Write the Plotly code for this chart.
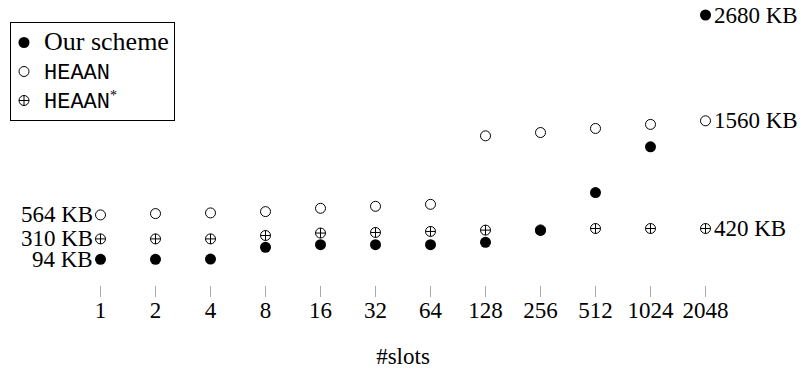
import plotly.graph_objects as go

slots = ["1", "2", "4", "8", "16", "32", "64", "128", "256", "512", "1024", "2048"]
our_scheme = [94, 94, 97, 221, 249, 249, 249, 274, 400, 800, 1285, 2680]
heaan = [564, 578, 585, 599, 634, 655, 676, 1401, 1436, 1479, 1522, 1560]
heaan_star = [310, 310, 310, 346, 372, 378, 389, 403, 405, 420, 420, 420]

SERIF = "Liberation Serif"
MONO = "Liberation Mono"
FS = 23

xpos = list(range(len(slots)))

fig = go.Figure()

fig.add_trace(go.Scatter(
    x=xpos, y=heaan, mode="markers",
    name=f"<span style=\"font-family:'{MONO}';font-size:22px\">HEAAN</span>",
    marker=dict(symbol="circle-open", size=10, color="black", line=dict(width=1, color="black")),
    cliponaxis=False, legendrank=2,
))
fig.add_trace(go.Scatter(
    x=xpos, y=heaan_star, mode="markers",
    name=f"<span style=\"font-family:'{MONO}';font-size:22px\">HEAAN</span><sup>*</sup>",
    marker=dict(symbol="circle-cross-open", size=10, color="black", line=dict(width=1, color="black")),
    cliponaxis=False, legendrank=3,
))
fig.add_trace(go.Scatter(
    x=xpos, y=our_scheme, mode="markers",
    name="<span style=\"font-size:26px\">Our scheme</span>",
    marker=dict(symbol="circle", size=11, color="black", line=dict(width=0)),
    cliponaxis=False, legendrank=1,
))

annots = []
for series in (our_scheme, heaan, heaan_star):
    annots.append(dict(x=xpos[0], y=series[0], text=f"{series[0]} KB", xanchor="right",
                       yanchor="middle", xshift=-6, showarrow=False,
                       font=dict(family=SERIF, size=FS, color="black")))
    annots.append(dict(x=xpos[-1], y=series[-1], text=f"{series[-1]} KB", xanchor="left",
                       yanchor="middle", xshift=6, showarrow=False,
                       font=dict(family=SERIF, size=FS, color="black")))

W, H = 809, 370
L, R, T, B = 72.5, 75.5, 10, 85

fig.update_layout(
    width=W, height=H, autosize=False,
    margin=dict(l=L, r=R, t=T, b=B, pad=0, autoexpand=False),
    paper_bgcolor="white", plot_bgcolor="white",
    font=dict(family=SERIF, size=FS, color="black"),
    annotations=annots,
    showlegend=True,
    legend=dict(
        xref="container", yref="container",
        x=10 / W, y=1 - 22 / H, xanchor="left", yanchor="top",
        bordercolor="black", borderwidth=1, bgcolor="white",
        font=dict(family=SERIF, size=20, color="black"),
        itemwidth=30, tracegroupgap=0, traceorder="normal", indentation=-7,
    ),
    xaxis=dict(
        range=[-0.5, len(slots) - 0.5],
        tickmode="array", tickvals=xpos, ticktext=slots,
        showgrid=False, zeroline=False, showline=False,
        ticks="outside", ticklen=11, tickwidth=1, tickcolor="#aaaaaa",
        ticklabelstandoff=-7,
        tickfont=dict(family=SERIF, size=FS, color="black"),
        title=dict(text="#slots", font=dict(family=SERIF, size=FS, color="black"), standoff=26),
    ),
    yaxis=dict(visible=False, range=[-178, 2733]),
)

fig.write_html("out.html", config={"displayModeBar": False},
               post_script="document.body.style.margin='0';document.body.style.overflow='hidden';")
